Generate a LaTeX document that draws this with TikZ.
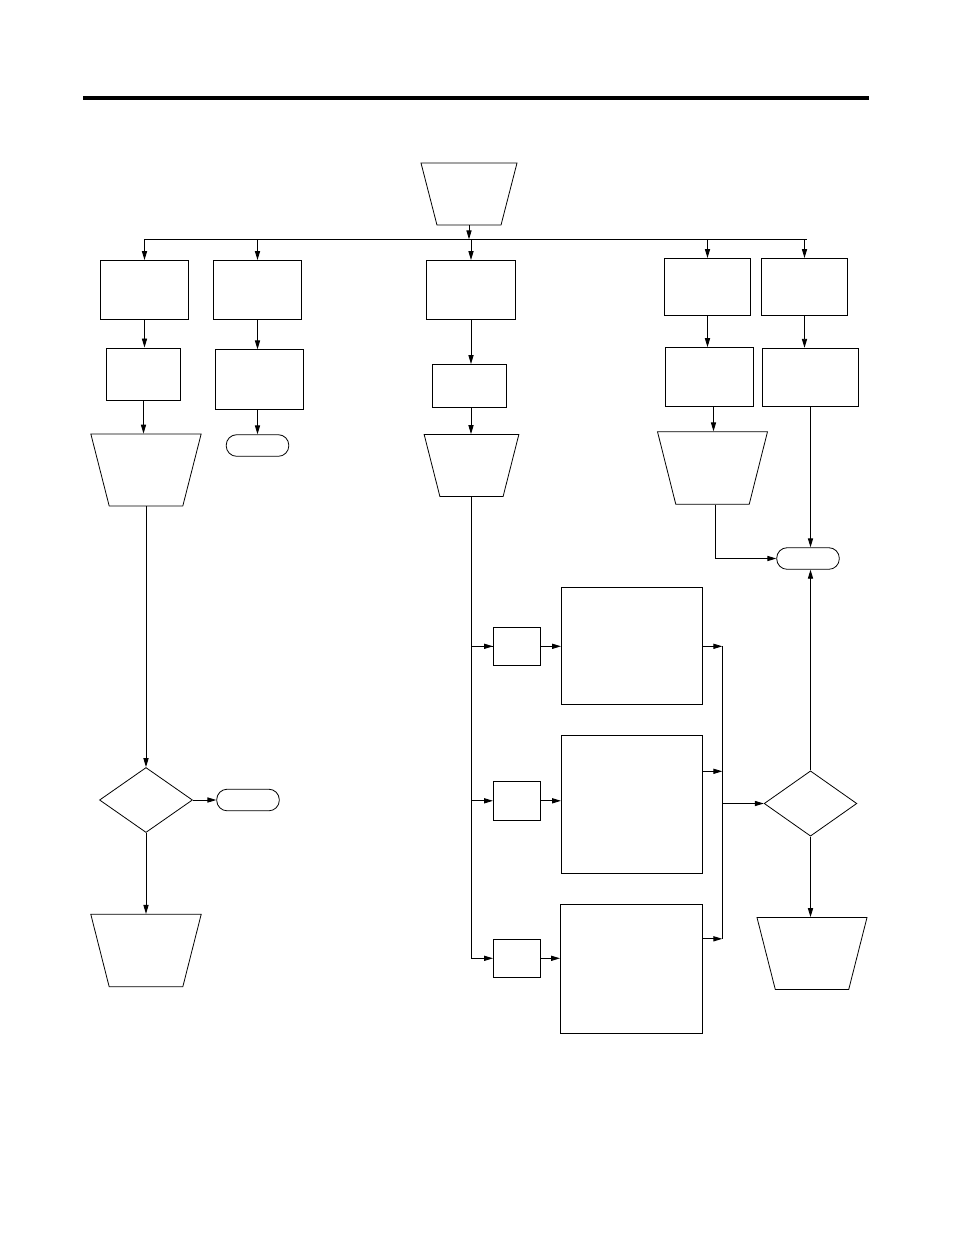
\documentclass[tikz,border=0pt]{standalone}
\usepackage{tikz}
\usetikzlibrary{arrows.meta,shapes.geometric,positioning}
\tikzset{
    block/.style = {draw, rectangle, line width=1pt, inner sep=0pt},
    io/.style = {draw, trapezium, trapezium angle=76, trapezium stretches=true,
        shape border rotate=180, line width=0.8pt, inner sep=2pt},
    decision/.style = {draw, diamond, line width=0.8pt, inner sep=0pt,
        minimum width=93pt, minimum height=65pt},
    term/.style = {draw, rectangle, rounded corners=10.5pt, line width=0.8pt,
        minimum width=62.6pt, minimum height=21.6pt, inner sep=0pt},
    arrow/.style = {draw, line width=0.9pt, -{Triangle[length=9pt,width=5.2pt]}}
}
\begin{document}
\begin{tikzpicture}[x=1pt, y=-1pt]
    \useasboundingbox (0,0) rectangle (954,1235);
    \coordinate (ruleL) at (83,98);
    \coordinate (ruleR) at (869,98);
    \draw[line width=3.5pt] (ruleL) -- (ruleR);
    % top and bus
    \node [io, minimum width=96pt, minimum height=62pt] (start) at (469,194) {};
    \coordinate (busL) at (145,239.3);
    \coordinate (busR) at (806.7,239.3);
    \node [block, minimum width=88.4pt, minimum height=59pt] (b1) at (144.5,290) {};
    \node [block, minimum width=88pt, minimum height=59pt] (b2) at (257.5,290) {};
    \node [block, minimum width=89pt, minimum height=59pt] (b3) at (471,290) {};
    \node [block, minimum width=86pt, minimum height=57pt] (b4) at (707.5,287) {};
    \node [block, minimum width=86pt, minimum height=57pt] (b5) at (804.5,287) {};
    \draw[arrow] (start.south) -- (start.south |- busL);
    \draw[line width=0.9pt] (busL) -- (busR);
    \foreach \b in {b1,b2,b3,b4,b5}
        \draw[arrow] (\b.north |- busL) -- (\b.north);
    % left column
    \node [block, minimum width=74pt, minimum height=52pt, below of=b1, node distance=84pt, xshift=-1pt] (c1) {};
    \node [io, minimum width=110.3pt, minimum height=72pt, below of=c1, node distance=96pt, xshift=2.5pt] (t1) {};
    \node [decision, below of=t1, node distance=330pt] (d1) {};
    \node [term, right of=d1, node distance=102pt] (e1) {};
    \node [io, minimum width=110.4pt, minimum height=72.4pt, below of=d1, node distance=150.5pt] (t5) {};
    \draw[arrow] (b1.south) -- (b1.south |- c1.north);
    \draw[arrow] (c1.south) -- (c1.south |- t1.north);
    \draw[arrow] (t1.south) -- (t1.south |- d1.north);
    \draw[arrow] (d1.east) -- (e1.west);
    \draw[arrow] (d1.south) -- (d1.south |- t5.north);
    % second column
    \node [block, minimum width=88.7pt, minimum height=59.3pt, below of=b2, node distance=89.5pt, xshift=2pt] (c2) {};
    \node [term, below of=c2, node distance=66pt, xshift=-2pt] (e2) {};
    \draw[arrow] (b2.south) -- (b2.south |- c2.north);
    \draw[arrow] (c2.south -| b2.south) -- (b2.south |- e2.north);
    % middle column
    \node [block, minimum width=74pt, minimum height=43pt, below of=b3, node distance=96pt, xshift=-1.5pt] (c3) {};
    \node [io, minimum width=94.7pt, minimum height=62pt, below of=c3, node distance=79.5pt, xshift=2pt] (t3) {};
    \draw[arrow] (b3.south) -- (b3.south |- c3.north);
    \draw[arrow] (c3.south -| b3.south) -- (b3.south |- t3.north);
    \node [block, minimum width=47pt, minimum height=38pt] (s1) at (517,646.3) {};
    \node [block, minimum width=47pt, minimum height=39pt, below of=s1, node distance=154.5pt] (s2) {};
    \node [block, minimum width=47pt, minimum height=38pt, below of=s2, node distance=157.5pt] (s3) {};
    \node [block, minimum width=141pt, minimum height=117pt, right of=s1, node distance=115pt] (m1) {};
    \node [block, minimum width=141pt, minimum height=138pt, right of=s2, node distance=115pt, yshift=-3.5pt] (m2) {};
    \node [block, minimum width=142pt, minimum height=129pt, right of=s3, node distance=114.5pt, yshift=-10.5pt] (m3) {};
    \draw[line width=0.9pt] (t3.south) |- (s1.west);
    \draw[arrow] (t3.south |- s1.west) -- (s1.west);
    \draw[arrow] (t3.south |- s2.west) -- (s2.west);
    \draw[arrow] (t3.south) |- (s3.west);
    \foreach \i in {1,2,3}
        \draw[arrow] (s\i.east) -- (s\i.east -| m\i.west);
    % right columns
    \node [block, minimum width=88pt, minimum height=58.7pt, below of=b4, node distance=90pt, xshift=2pt] (c4) {};
    \node [io, minimum width=110pt, minimum height=72.6pt, below of=c4, node distance=91pt, xshift=3pt] (t4) {};
    \node [block, minimum width=95.7pt, minimum height=58.4pt, below of=b5, node distance=90.5pt, xshift=6pt] (c5) {};
    \node [term, below of=c5, node distance=181pt, xshift=-2.5pt] (e5) {};
    \node [decision, minimum width=92.7pt, minimum height=65.3pt, below of=e5, node distance=245pt, xshift=2.5pt] (d2) {};
    \node [io, minimum width=110pt, minimum height=72pt, below of=d2, node distance=150pt, xshift=1.5pt] (t6) {};
    \draw[arrow] (b4.south) -- (b4.south |- c4.north);
    \draw[arrow] ([xshift=4pt]c4.south) -- ([xshift=4pt]c4.south |- t4.north);
    \draw[arrow] (b5.south) -- (b5.south |- c5.north);
    \draw[arrow] ([xshift=3pt]t4.south) |- (e5.west);
    \draw[arrow] (c5.south) -- (c5.south |- e5.north);
    \draw[arrow] (d2.north) -- (d2.north |- e5.south);
    \draw[arrow] (d2.south) -- (d2.south |- t6.north);
    % collector
    \coordinate (jn) at (722.3,804);
    \draw[arrow] (m1.east) -- (m1.east -| jn);
    \draw[arrow] ([yshift=33pt]m2.east) -- ([yshift=33pt]m2.east -| jn);
    \draw[arrow] ([yshift=30pt]m3.east) -- ([yshift=30pt]m3.east -| jn);
    \draw[line width=0.9pt] (m1.east -| jn) -- ([yshift=30pt]m3.east -| jn);
    \draw[arrow] (d2.west -| jn) -- (d2.west);
\end{tikzpicture}
\end{document}
